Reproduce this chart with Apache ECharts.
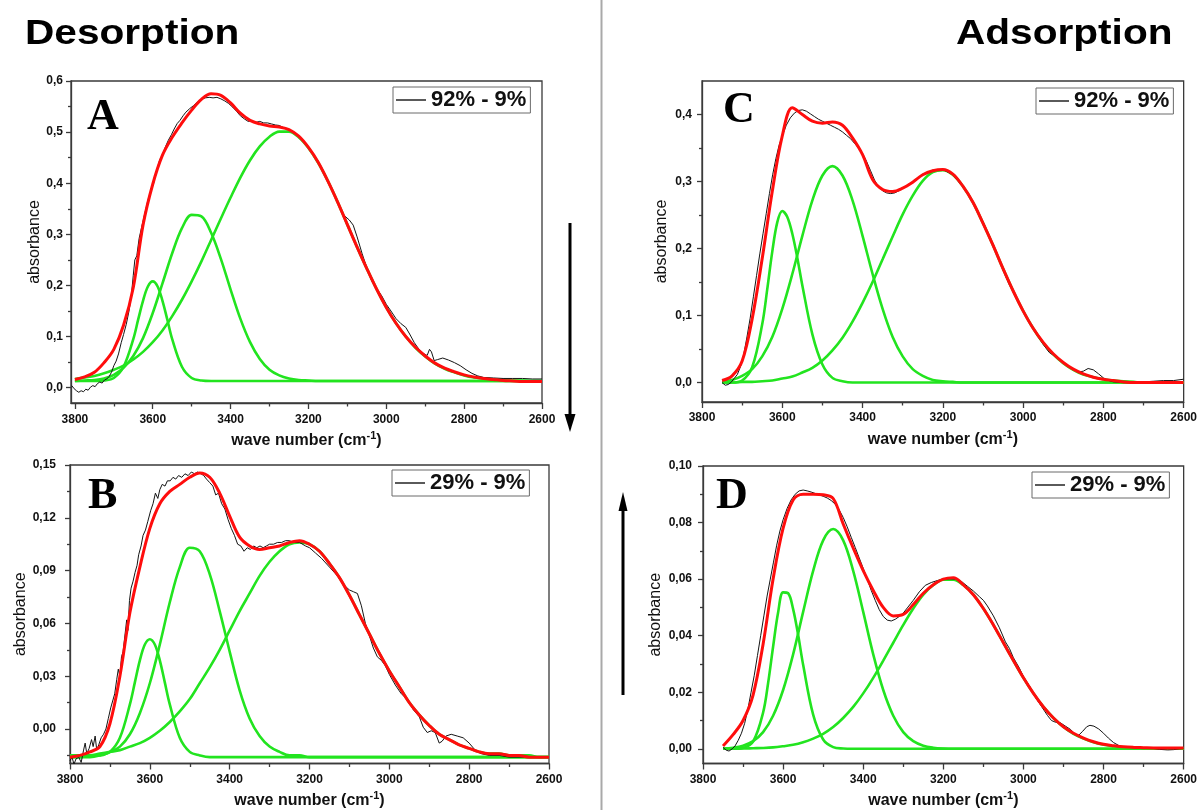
<!DOCTYPE html>
<html>
<head>
<meta charset="utf-8">
<title>OH stretching band decomposition</title>
<script src="https://cdn.jsdelivr.net/npm/echarts@6/dist/echarts.min.js"></script>
<style>
  html, body { margin: 0; padding: 0; background: #fff; }
  #chart { width: 1200px; height: 810px; }
</style>
</head>
<body>
<div id="chart"></div>
<script>
// ---- wavenumber grids (cm-1) ----
const wnAB = [3800,3775,3750,3725,3700,3675,3650,3625,3600,3575,3550,3525,3500,3475,3450,3425,3400,3375,3350,3325,3300,3275,3250,3225,3200,
              3175,3150,3125,3100,3075,3050,3025,3000,2975,2950,2925,2900,2875,2850,2825,2800,2775,2750,2725,2700,2675,2650,2625,2600];
const wnCD = [3750,3725,3700,3675,3650,3625,3600,3575,3550,3525,3500,3475,3450,3425,3400,3375,3350,3325,3300,3275,3250,3225,3200,
              3175,3150,3125,3100,3075,3050,3025,3000,2975,2950,2925,2900,2875,2850,2825,2800,2775,2750,2725,2700,2675,2650,2625,2600];

// ---- tick values ----
const xMajor = [3800,3600,3400,3200,3000,2800,2600];
const xMinor = [3700,3500,3300,3100,2900,2700];
const yMajorA = [0,0.1,0.2,0.3,0.4,0.5,0.6];
const yMinorA = [0.05,0.15,0.25,0.35,0.45,0.55];
const yMajorB = [0,0.03,0.06,0.09,0.12,0.15];
const yMinorB = [-0.015,0.015,0.045,0.075,0.105,0.135];
const yMajorC = [0,0.1,0.2,0.3,0.4];
const yMinorC = [0.05,0.15,0.25,0.35];
const yMajorD = [0,0.02,0.04,0.06,0.08,0.10];
const yMinorD = [0.01,0.03,0.05,0.07,0.09];

// ---- legend labels ----
const labelHigh = '92% - 9%';
const labelLow = '29% - 9%';

// ===== A : desorption 92% - 9% =====
const fitA = [0.016,0.021,0.030,0.049,0.075,0.122,0.196,0.318,0.398,0.455,0.490,0.518,0.543,0.564,0.575,0.572,0.557,0.537,0.523,0.516,0.512,0.510,0.505,0.492,0.470,
              0.441,0.404,0.363,0.319,0.275,0.233,0.193,0.157,0.126,0.100,0.079,0.062,0.048,0.038,0.031,0.025,0.021,0.018,0.016,0.014,0.013,0.012,0.012,0.012];
const bandA1 = [[3800,0.013],[3750,0.013],[3725,0.014],[3700,0.019],[3675,0.041],[3650,0.095],[3637.5,0.133],[3625,0.170],[3612.5,0.198],[3600,0.208],[3587.5,0.198],[3575,0.170],[3562.5,0.133],[3550,0.095],[3525,0.041],[3500,0.019],[3475,0.014],[3450,0.013],[3400,0.013],[2600,0.013]];
const bandA2 = [[3800,0.013],[3775,0.014],[3750,0.015],[3725,0.018],[3700,0.025],[3675,0.039],[3650,0.062],[3625,0.097],[3600,0.146],[3575,0.204],[3550,0.263],[3525,0.312],[3500,0.338],[3475,0.335],[3450,0.303],[3425,0.252],[3400,0.192],[3375,0.135],[3350,0.089],[3325,0.056],[3300,0.035],[3275,0.024],[3250,0.018],[3225,0.015],[3200,0.014],[3175,0.013],[3125,0.013],[2600,0.013]];
const bandA3 = [[3800,0.017],[3775,0.020],[3750,0.023],[3725,0.028],[3700,0.035],[3675,0.043],[3650,0.055],[3625,0.070],[3600,0.089],[3575,0.112],[3550,0.140],[3525,0.172],[3500,0.208],[3475,0.247],[3450,0.289],[3425,0.331],[3400,0.372],[3375,0.411],[3350,0.445],[3325,0.472],[3300,0.491],[3275,0.501],[3250,0.501],[3225,0.490],[3200,0.469],[3175,0.440],[3150,0.404],[3125,0.363],[3100,0.319],[3075,0.275],[3050,0.233],[3025,0.193],[3000,0.157],[2975,0.126],[2950,0.100],[2925,0.078],[2900,0.061],[2875,0.047],[2850,0.037],[2825,0.030],[2800,0.024],[2775,0.020],[2750,0.018],[2725,0.016],[2700,0.015],[2675,0.014],[2650,0.014],[2625,0.013],[2600,0.013]];
const specA = [[3808,0.004],[3802,-0.002],[3796,-0.006],[3790,-0.009],[3784,-0.006],[3778,-0.008],[3772,-0.003],[3766,-0.005],[3760,0.001],[3754,0.004],[3748,0.002],[3742,0.008],[3736,0.011],[3730,0.009],[3724,0.015],[3718,0.017],[3712,0.022],[3706,0.030],[3700,0.043],[3694,0.052],[3688,0.066],[3681,0.088],[3675,0.104],[3668,0.124],[3661,0.150],[3655,0.180],[3650,0.220],[3646,0.250],[3641,0.258],[3635,0.292],[3628,0.316],[3620,0.342],[3612,0.368],[3605,0.384],[3598,0.399],[3590,0.425],[3582,0.446],[3575,0.456],[3567,0.472],[3560,0.484],[3552,0.495],[3545,0.506],[3537,0.517],[3530,0.523],[3522,0.532],[3515,0.539],[3505,0.546],[3495,0.552],[3485,0.559],[3475,0.564],[3465,0.567],[3455,0.568],[3445,0.567],[3435,0.568],[3425,0.565],[3415,0.561],[3405,0.556],[3395,0.549],[3385,0.541],[3375,0.532],[3365,0.526],[3355,0.521],[3345,0.522],[3335,0.519],[3325,0.521],[3315,0.518],[3305,0.518],[3295,0.516],[3285,0.514],[3275,0.513],[3262,0.508],[3250,0.504],[3235,0.497],[3220,0.488],[3200,0.471],[3175,0.443],[3150,0.405],[3125,0.362],[3110,0.338],[3095,0.328],[3085,0.318],[3075,0.295],[3062,0.262],[3050,0.234],[3038,0.210],[3025,0.194],[3012,0.180],[3000,0.163],[2988,0.150],[2975,0.135],[2962,0.125],[2950,0.118],[2940,0.105],[2928,0.088],[2915,0.074],[2903,0.066],[2895,0.063],[2889,0.075],[2884,0.070],[2877,0.053],[2868,0.055],[2855,0.058],[2840,0.054],[2825,0.049],[2810,0.043],[2795,0.035],[2780,0.028],[2765,0.023],[2750,0.020],[2725,0.019],[2700,0.018],[2675,0.018],[2650,0.018],[2625,0.017],[2600,0.017]];

// ===== B : desorption 29% - 9% =====
const fitB = [-0.016,-0.015,-0.013,-0.010,0.003,0.030,0.066,0.092,0.114,0.128,0.135,0.139,0.143,0.1455,0.143,0.134,0.121,0.109,0.104,0.102,0.103,0.104,0.106,0.107,0.105,
              0.101,0.094,0.086,0.076,0.065,0.054,0.043,0.033,0.024,0.015,0.008,0.002,-0.003,-0.006,-0.009,-0.011,-0.013,-0.014,-0.014,-0.015,-0.015,-0.016,-0.016,-0.016];
const bandB1 = [[3800,-0.016],[3750,-0.016],[3725,-0.015],[3700,-0.013],[3675,-0.005],[3650,0.014],[3637.5,0.0265],[3625,0.039],[3612.5,0.048],[3600,0.051],[3587.5,0.048],[3575,0.039],[3562.5,0.0265],[3550,0.014],[3525,-0.005],[3500,-0.013],[3475,-0.015],[3450,-0.016],[3400,-0.016],[2600,-0.016]];
const bandB2 = [[3800,-0.016],[3775,-0.016],[3750,-0.015],[3725,-0.015],[3700,-0.013],[3675,-0.010],[3650,-0.003],[3625,0.009],[3600,0.026],[3575,0.048],[3550,0.072],[3525,0.092],[3500,0.103],[3475,0.101],[3450,0.088],[3425,0.067],[3400,0.044],[3375,0.022],[3350,0.006],[3325,-0.004],[3300,-0.010],[3275,-0.013],[3250,-0.015],[3225,-0.015],[3200,-0.016],[3150,-0.016],[2600,-0.016]];
const bandB3 = [[3800,-0.015],[3775,-0.015],[3750,-0.015],[3725,-0.014],[3700,-0.013],[3675,-0.012],[3650,-0.010],[3625,-0.008],[3600,-0.005],[3575,-0.001],[3550,0.004],[3525,0.010],[3500,0.017],[3475,0.026],[3450,0.035],[3425,0.045],[3400,0.056],[3375,0.067],[3350,0.077],[3325,0.087],[3300,0.095],[3275,0.101],[3250,0.105],[3225,0.106],[3200,0.105],[3175,0.101],[3150,0.094],[3125,0.086],[3100,0.076],[3075,0.065],[3050,0.054],[3025,0.043],[3000,0.033],[2975,0.024],[2950,0.015],[2925,0.008],[2900,0.002],[2875,-0.003],[2850,-0.006],[2825,-0.009],[2800,-0.011],[2775,-0.013],[2750,-0.014],[2725,-0.014],[2700,-0.015],[2675,-0.015],[2650,-0.015],[2625,-0.016],[2600,-0.016]];
const specB = [[3800,-0.018],[3795,-0.016],[3790,-0.020],[3785,-0.017],[3778,-0.016],[3772,-0.019],[3766,-0.012],[3762,-0.008],[3758,-0.014],[3752,-0.011],[3746,-0.006],[3742,-0.010],[3737,-0.004],[3733,-0.012],[3728,-0.009],[3722,-0.005],[3716,-0.003],[3710,0.000],[3704,0.006],[3698,0.012],[3693,0.011],[3688,0.020],[3683,0.028],[3679,0.034],[3675,0.030],[3671,0.041],[3667,0.044],[3662,0.054],[3658,0.062],[3655,0.056],[3651,0.073],[3647,0.080],[3642,0.084],[3637,0.089],[3632,0.093],[3628,0.099],[3622,0.104],[3617,0.110],[3611,0.113],[3605,0.118],[3598,0.124],[3592,0.128],[3586,0.134],[3580,0.131],[3575,0.136],[3569,0.139],[3562,0.138],[3556,0.141],[3549,0.141],[3542,0.143],[3535,0.142],[3528,0.144],[3520,0.143],[3512,0.145],[3504,0.144],[3496,0.146],[3488,0.145],[3480,0.146],[3472,0.145],[3465,0.144],[3458,0.142],[3450,0.140],[3442,0.138],[3435,0.133],[3428,0.134],[3420,0.128],[3412,0.125],[3404,0.119],[3396,0.114],[3388,0.110],[3380,0.105],[3372,0.104],[3364,0.101],[3356,0.103],[3348,0.102],[3340,0.104],[3332,0.103],[3324,0.104],[3316,0.103],[3308,0.104],[3300,0.105],[3290,0.105],[3280,0.106],[3270,0.106],[3260,0.107],[3250,0.107],[3240,0.106],[3225,0.106],[3210,0.104],[3200,0.103],[3185,0.100],[3170,0.097],[3150,0.092],[3130,0.087],[3115,0.082],[3100,0.079],[3090,0.078],[3080,0.077],[3070,0.070],[3060,0.060],[3050,0.053],[3040,0.046],[3030,0.041],[3020,0.039],[3010,0.036],[3000,0.031],[2985,0.025],[2970,0.020],[2955,0.017],[2940,0.011],[2925,0.007],[2915,0.001],[2905,-0.002],[2895,-0.001],[2885,-0.002],[2875,-0.008],[2868,-0.007],[2858,-0.004],[2845,-0.003],[2830,-0.004],[2815,-0.005],[2800,-0.008],[2785,-0.012],[2770,-0.014],[2750,-0.015],[2725,-0.015],[2700,-0.016],[2675,-0.016],[2650,-0.016],[2625,-0.016],[2600,-0.016]];

// ===== C : adsorption 92% - 9% =====
const fitC = [0.003,0.010,0.032,0.095,0.185,0.285,0.368,0.410,0.400,0.390,0.387,0.389,0.384,0.365,0.340,0.303,0.288,0.285,0.290,0.299,0.310,0.316,0.318,
              0.311,0.293,0.269,0.238,0.205,0.170,0.137,0.107,0.081,0.060,0.043,0.030,0.020,0.013,0.008,0.005,0.003,0.001,0.000,0.000,0.000,0.000,0.000,0.000];
const bandC1 = [[3750,0],[3725,0],[3700,0.003],[3675,0.023],[3650,0.087],[3637.5,0.139],[3625,0.195],[3612.5,0.239],[3600,0.256],[3587.5,0.247],[3575,0.222],[3562.5,0.186],[3550,0.145],[3525,0.072],[3500,0.027],[3475,0.007],[3450,0.002],[3425,0],[3400,0],[2600,0]];
const bandC2 = [[3750,0.002],[3725,0.004],[3700,0.010],[3675,0.020],[3650,0.039],[3625,0.068],[3600,0.110],[3575,0.162],[3550,0.219],[3525,0.272],[3500,0.309],[3475,0.323],[3450,0.309],[3425,0.272],[3400,0.219],[3375,0.162],[3350,0.110],[3325,0.068],[3300,0.039],[3275,0.020],[3250,0.010],[3225,0.004],[3200,0.002],[3175,0.001],[3150,0],[3100,0],[2600,0]];
const bandC3 = [[3750,0],[3725,0],[3700,0.001],[3675,0.001],[3650,0.002],[3625,0.003],[3600,0.006],[3575,0.009],[3550,0.015],[3525,0.022],[3500,0.033],[3475,0.048],[3450,0.067],[3425,0.091],[3400,0.119],[3375,0.150],[3350,0.184],[3325,0.218],[3300,0.251],[3275,0.279],[3250,0.301],[3225,0.314],[3200,0.317],[3175,0.310],[3150,0.293],[3125,0.269],[3100,0.238],[3075,0.205],[3050,0.170],[3025,0.137],[3000,0.107],[2975,0.081],[2950,0.059],[2925,0.042],[2900,0.029],[2875,0.019],[2850,0.012],[2825,0.008],[2800,0.005],[2775,0.003],[2750,0.002],[2725,0.001],[2700,0],[2650,0],[2600,0]];
const specC = [[3750,0.000],[3742,-0.004],[3735,-0.003],[3728,0.000],[3720,0.006],[3712,0.012],[3704,0.024],[3696,0.042],[3688,0.068],[3680,0.096],[3672,0.128],[3664,0.160],[3656,0.192],[3648,0.222],[3640,0.252],[3632,0.282],[3624,0.310],[3616,0.334],[3608,0.354],[3600,0.368],[3590,0.384],[3580,0.395],[3570,0.402],[3560,0.406],[3550,0.407],[3540,0.405],[3530,0.401],[3520,0.397],[3510,0.393],[3500,0.390],[3490,0.387],[3480,0.384],[3470,0.381],[3460,0.378],[3450,0.374],[3440,0.369],[3430,0.364],[3420,0.357],[3410,0.350],[3400,0.342],[3390,0.330],[3380,0.316],[3370,0.302],[3360,0.292],[3350,0.286],[3340,0.283],[3330,0.282],[3320,0.283],[3310,0.286],[3300,0.290],[3275,0.300],[3250,0.311],[3225,0.317],[3200,0.318],[3175,0.310],[3150,0.292],[3125,0.270],[3100,0.240],[3075,0.207],[3050,0.168],[3035,0.147],[3025,0.136],[3000,0.106],[2975,0.080],[2950,0.057],[2935,0.045],[2925,0.041],[2900,0.030],[2875,0.020],[2860,0.016],[2850,0.017],[2838,0.021],[2825,0.019],[2812,0.013],[2800,0.007],[2787,0.003],[2775,0.001],[2750,0.000],[2725,0.000],[2700,0.001],[2675,0.002],[2650,0.003],[2625,0.003],[2600,0.005]];

// ===== D : adsorption 29% - 9% =====
const fitD = [0.001,0.005,0.010,0.019,0.037,0.060,0.078,0.088,0.090,0.090,0.0898,0.0885,0.0795,0.071,0.063,0.056,0.050,0.047,0.0475,0.051,0.055,0.058,0.060,
              0.0605,0.058,0.0545,0.0496,0.0438,0.0375,0.0312,0.0251,0.0196,0.0148,0.0109,0.0078,0.0055,0.0038,0.0025,0.0016,0.0011,0.0007,0.0005,0.0004,0.0003,0.0003,0.0003,0.0003];
const bandD1 = [[3750,0],[3725,0],[3700,0.0003],[3675,0.0025],[3650,0.0128],[3637.5,0.0232],[3625,0.0361],[3612.5,0.0482],[3600,0.0553],[3587.5,0.0550],[3575,0.0494],[3562.5,0.0403],[3550,0.0297],[3525,0.0121],[3500,0.0033],[3475,0.0006],[3450,0.0001],[3425,0],[3400,0],[2600,0]];
const bandD2 = [[3750,0.0001],[3725,0.0004],[3700,0.0011],[3675,0.0027],[3650,0.0059],[3625,0.0117],[3600,0.0208],[3575,0.0334],[3550,0.0484],[3525,0.0629],[3500,0.0737],[3475,0.0777],[3450,0.0737],[3425,0.0629],[3400,0.0484],[3375,0.0334],[3350,0.0208],[3325,0.0117],[3300,0.0059],[3275,0.0027],[3250,0.0011],[3225,0.0004],[3200,0.0001],[3175,0],[3150,0],[2600,0]];
const bandD3 = [[3750,0],[3725,0.0001],[3700,0.0001],[3675,0.0002],[3650,0.0003],[3625,0.0005],[3600,0.0009],[3575,0.0014],[3550,0.0023],[3525,0.0036],[3500,0.0053],[3475,0.0077],[3450,0.0109],[3425,0.0148],[3400,0.0196],[3375,0.0251],[3350,0.0312],[3325,0.0375],[3300,0.0438],[3275,0.0496],[3250,0.0545],[3225,0.0579],[3200,0.0598],[3175,0.0598],[3150,0.0579],[3125,0.0545],[3100,0.0496],[3075,0.0438],[3050,0.0375],[3025,0.0312],[3000,0.0251],[2975,0.0196],[2950,0.0148],[2925,0.0109],[2900,0.0077],[2875,0.0053],[2850,0.0036],[2825,0.0023],[2800,0.0014],[2775,0.0009],[2750,0.0005],[2725,0.0003],[2700,0.0002],[2675,0.0001],[2650,0.0001],[2625,0],[2600,0]];
const specD = [[3750,0.0005],[3742,-0.0005],[3735,-0.0008],[3727,0.000],[3720,0.001],[3712,0.003],[3704,0.0055],[3696,0.009],[3688,0.014],[3680,0.020],[3672,0.026],[3664,0.033],[3656,0.040],[3648,0.047],[3640,0.054],[3632,0.060],[3624,0.066],[3616,0.072],[3608,0.077],[3600,0.081],[3590,0.085],[3580,0.088],[3570,0.090],[3560,0.0912],[3550,0.0915],[3540,0.0912],[3530,0.0908],[3520,0.0903],[3510,0.0898],[3500,0.0893],[3490,0.0887],[3480,0.0878],[3470,0.0865],[3460,0.0845],[3450,0.0818],[3440,0.0785],[3430,0.0748],[3420,0.0712],[3410,0.0675],[3400,0.0638],[3390,0.060],[3380,0.056],[3370,0.0525],[3360,0.0492],[3350,0.0468],[3340,0.0455],[3330,0.0452],[3320,0.0458],[3310,0.0468],[3300,0.048],[3290,0.0498],[3275,0.0525],[3260,0.0555],[3245,0.0578],[3230,0.0588],[3215,0.0595],[3200,0.0600],[3185,0.0601],[3170,0.0600],[3155,0.0592],[3140,0.0575],[3125,0.0558],[3110,0.0538],[3100,0.0525],[3090,0.0505],[3075,0.0470],[3060,0.0428],[3045,0.0378],[3035,0.0355],[3025,0.0322],[3010,0.0285],[3000,0.0255],[2985,0.0222],[2970,0.0182],[2955,0.0150],[2940,0.0118],[2930,0.0100],[2920,0.0094],[2908,0.0092],[2895,0.0080],[2882,0.0068],[2870,0.0050],[2862,0.0048],[2852,0.0062],[2842,0.0078],[2834,0.0083],[2824,0.0080],[2812,0.0070],[2800,0.0055],[2788,0.0038],[2775,0.0022],[2760,0.0010],[2745,0.0005],[2725,0.0004],[2700,0.0004],[2680,0.0002],[2660,-0.0002],[2640,-0.0004],[2625,-0.0003],[2610,0.0000],[2600,0.0002]];

// pair a wavenumber grid with a value column
function zipXY(xs, ys) { return xs.map((x, i) => [x, ys[i]]); }

const FONT = '"Liberation Sans", Arial, sans-serif';
const INK = '#111';
const FRAME = '#3a3a3a';
const GREEN = '#22e41f';
const RED = '#ff0d0d';

// panel layout and axis setup
const panels = [
  { grid: {left: 71, top: 81, width: 471, height: 322}, xMax: 3810, yMin: -0.03, yMax: 0.6,
    yMajor: yMajorA, yMinor: yMinorA, dec: 1, yLabelMargin: 8, yNameGap: 28, xLabelMargin: 11,
    legend: labelHigh, legendPos: {left: 393, top: 87},
    bands: [bandA1, bandA2, bandA3], fit: zipXY(wnAB, fitA), spec: specA },
  { grid: {left: 70, top: 465, width: 479, height: 303}, xMax: 3800, yMin: -0.0196, yMax: 0.15,
    yMajor: yMajorB, yMinor: yMinorB, dec: 2, yLabelMargin: 14, yNameGap: 40, xLabelMargin: 10,
    legend: labelLow, legendPos: {left: 392, top: 470},
    bands: [bandB1, bandB2, bandB3], fit: zipXY(wnAB, fitB), spec: specB },
  { grid: {left: 702, top: 81, width: 482, height: 321}, xMax: 3800, yMin: -0.029, yMax: 0.45,
    yMajor: yMajorC, yMinor: yMinorC, dec: 1, yLabelMargin: 10, yNameGap: 32, xLabelMargin: 10,
    legend: labelHigh, legendPos: {left: 1036, top: 88},
    bands: [bandC1, bandC2, bandC3], fit: zipXY(wnCD, fitC), spec: specC },
  { grid: {left: 703, top: 466, width: 481, height: 305}, xMax: 3800, yMin: -0.0052, yMax: 0.10,
    yMajor: yMajorD, yMinor: yMinorD, dec: 2, yLabelMargin: 11, yNameGap: 39, xLabelMargin: 10,
    legend: labelLow, legendPos: {left: 1032, top: 472},
    bands: [bandD1, bandD2, bandD3], fit: zipXY(wnCD, fitD), spec: specD }
];

const grids = [], xAxes = [], yAxes = [], series = [], legends = [];
const tickStyle = {color: FRAME, width: 1.3};
const labelStyle = {fontWeight: 'bold', fontSize: 12, color: INK, fontFamily: FONT};

panels.forEach((p, i) => {
  grids.push(Object.assign({show: true, borderColor: FRAME, borderWidth: 1.3, backgroundColor: '#fff'}, p.grid));

  // main x axis: labels, major ticks, name
  xAxes.push({
    gridIndex: i, type: 'value', position: 'bottom', inverse: true, min: 2600, max: p.xMax,
    axisLine: {show: true, onZero: false, lineStyle: tickStyle},
    axisTick: {show: true, inside: false, length: 6, customValues: xMajor, lineStyle: tickStyle},
    axisLabel: Object.assign({customValues: xMajor, margin: p.xLabelMargin, formatter: v => String(Math.round(v))}, labelStyle),
    splitLine: {show: false},
    name: '{n|wave number (cm}{s|-1}{n|)}', nameLocation: 'middle', nameGap: 27,
    nameTextStyle: {rich: {
      n: {fontSize: 16, fontWeight: 'bold', fontFamily: FONT, color: INK},
      s: {fontSize: 11, fontWeight: 'bold', fontFamily: FONT, color: INK, padding: [0, 0, 10, 0]}
    }}
  });
  // overlay x axis carrying the short minor ticks
  xAxes.push({
    gridIndex: i, type: 'value', position: 'bottom', offset: 0, inverse: true, min: 2600, max: p.xMax,
    axisLine: {show: false, onZero: false},
    axisTick: {show: true, inside: false, length: 3.5, customValues: xMinor, lineStyle: tickStyle},
    axisLabel: {show: false}, splitLine: {show: false}
  });

  // main y axis
  yAxes.push({
    gridIndex: i, type: 'value', position: 'left', min: p.yMin, max: p.yMax,
    axisLine: {show: true, onZero: false, lineStyle: tickStyle},
    axisTick: {show: true, inside: false, length: 5, customValues: p.yMajor, lineStyle: tickStyle},
    axisLabel: Object.assign({customValues: p.yMajor, margin: p.yLabelMargin,
      formatter: v => v.toFixed(p.dec).replace('.', ',')}, labelStyle),
    splitLine: {show: false},
    name: 'absorbance', nameLocation: 'middle', nameGap: p.yNameGap, nameRotate: 90,
    nameTextStyle: {fontSize: 16, color: INK, fontFamily: FONT}
  });
  // overlay y axis for the minor ticks
  yAxes.push({
    gridIndex: i, type: 'value', position: 'left', offset: 0, min: p.yMin, max: p.yMax,
    axisLine: {show: false, onZero: false},
    axisTick: {show: true, inside: false, length: 3, customValues: p.yMinor, lineStyle: tickStyle},
    axisLabel: {show: false}, splitLine: {show: false}
  });

  const xi = 2 * i, yi = 2 * i;
  // fitted component bands
  p.bands.forEach((b, k) => {
    series.push({
      name: 'band ' + (i + 1) + '.' + (k + 1), type: 'line', xAxisIndex: xi, yAxisIndex: yi,
      data: b, showSymbol: false, smooth: 0.35, silent: true,
      lineStyle: {color: GREEN, width: 2.6}, itemStyle: {color: GREEN}
    });
  });
  // measured difference spectrum
  series.push({
    name: p.legend, type: 'line', xAxisIndex: xi, yAxisIndex: yi,
    data: p.spec, showSymbol: false, smooth: false, silent: true,
    lineStyle: {color: '#141414', width: 1}, itemStyle: {color: '#141414'}
  });
  // sum of the bands
  series.push({
    name: 'fit ' + (i + 1), type: 'line', xAxisIndex: xi, yAxisIndex: yi,
    data: p.fit, showSymbol: false, smooth: 0.35, silent: true,
    lineStyle: {color: RED, width: 3}, itemStyle: {color: RED}
  });

  legends.push(Object.assign({
    data: [{name: p.legend, icon: 'rect'}], orient: 'horizontal', selectedMode: false,
    itemWidth: 30, itemHeight: 1.4, itemGap: 0, padding: [2, 4, 2, 3],
    borderColor: '#6a6a6a', borderWidth: 1, backgroundColor: '#fff',
    textStyle: {fontSize: 22, fontWeight: 'bold', color: INK, fontFamily: FONT}
  }, p.legendPos));
});

const titleFont = 'bold 35px ' + FONT;
const letterFont = 'bold 44px "Liberation Serif", "Times New Roman", serif';

const graphic = [
  // separator between the two halves
  {type: 'line', shape: {x1: 601.5, y1: 0, x2: 601.5, y2: 810}, style: {stroke: '#a9a9a9', lineWidth: 2}},
  // headings
  {type: 'text', x: 25, y: 34, scaleX: 1.16, style: {text: 'Desorption', font: titleFont, fill: '#000', verticalAlign: 'middle'}},
  {type: 'text', x: 956, y: 34, scaleX: 1.16, style: {text: 'Adsorption', font: titleFont, fill: '#000', verticalAlign: 'middle'}},
  // panel letters
  {type: 'text', x: 87, y: 118, z: 10, style: {text: 'A', font: letterFont, fill: '#000', verticalAlign: 'middle'}},
  {type: 'text', x: 88, y: 497, z: 10, style: {text: 'B', font: letterFont, fill: '#000', verticalAlign: 'middle'}},
  {type: 'text', x: 723, y: 111, z: 10, style: {text: 'C', font: letterFont, fill: '#000', verticalAlign: 'middle'}},
  {type: 'text', x: 716, y: 497, z: 10, style: {text: 'D', font: letterFont, fill: '#000', verticalAlign: 'middle'}},
  // desorption direction: downward arrow
  {type: 'line', shape: {x1: 570, y1: 223, x2: 570, y2: 418}, style: {stroke: '#000', lineWidth: 3}},
  {type: 'polygon', shape: {points: [[564.5, 414], [575.5, 414], [570, 432]]}, style: {fill: '#000'}},
  // adsorption direction: upward arrow
  {type: 'line', shape: {x1: 623, y1: 508, x2: 623, y2: 695}, style: {stroke: '#000', lineWidth: 3}},
  {type: 'polygon', shape: {points: [[618.5, 511], [627.5, 511], [623, 492]]}, style: {fill: '#000'}}
];

const chart = echarts.init(document.getElementById('chart'), null, {renderer: 'canvas'});
chart.setOption({
  animation: false,
  backgroundColor: '#fff',
  grid: grids,
  xAxis: xAxes,
  yAxis: yAxes,
  legend: legends,
  series: series,
  graphic: graphic
});
</script>
</body>
</html>
